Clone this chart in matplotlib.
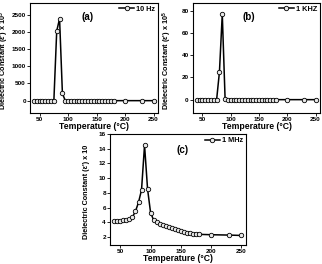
import numpy as np
import matplotlib.pyplot as plt

temps = [40, 45, 50, 55, 60, 65, 70, 75, 80, 85, 90, 95, 100, 105, 110, 115, 120, 125,
         130, 135, 140, 145, 150, 155, 160, 165, 170, 175, 180, 200, 230, 250]

eps_10hz = [0, 0, 0, 0, 0, 0, 0, 0, 2030, 2390, 210, 0, 0, 0, 0, 0, 0, 0,
            0, 0, 0, 0, 0, 0, 0, 0, 0, 0, 0, 0, 0, 0]
eps_1khz = [0, 0, 0, 0, 0, 0, 0, 0, 25, 77, 0.5, 0, 0, 0, 0, 0, 0, 0,
            0, 0, 0, 0, 0, 0, 0, 0, 0, 0, 0, 0, 0, 0]
eps_1mhz = [4.1, 4.15, 4.2, 4.25, 4.3, 4.45, 4.7, 5.5, 6.7, 8.4, 14.5, 8.5, 5.3, 4.3, 4.0, 3.8,
            3.65, 3.5, 3.35, 3.2, 3.05, 2.9, 2.8, 2.7, 2.6, 2.5, 2.45, 2.4, 2.35, 2.3, 2.25, 2.2]

plt.rcParams['font.family'] = ['Liberation Sans', 'DejaVu Sans']
plt.rcParams['font.weight'] = 'bold'
plt.rcParams['mathtext.fontset'] = 'custom'
plt.rcParams['mathtext.rm'] = 'Liberation Sans:bold'
plt.rcParams['mathtext.it'] = 'Liberation Sans:italic:bold'

fig = plt.figure(figsize=(3.22, 2.64), dpi=100)

panels = [
    ([0.093, 0.572, 0.398, 0.417], eps_10hz, '10 Hz', '(a)', (-360, 2850), [0, 500, 1000, 1500, 2000, 2500], "Dielectric Constant (ε') x 10$^5$", (0.45, 0.87)),
    ([0.599, 0.572, 0.395, 0.417], eps_1khz, '1 KHZ', '(b)', (-12, 87), [0, 20, 40, 60, 80], "Dielectric Constant (ε') x 10$^5$", (0.44, 0.87)),
    ([0.342, 0.072, 0.422, 0.420], eps_1mhz, '1 MHz', '(c)', (0.9, 16), [2, 4, 6, 8, 10, 12, 14, 16], "Dielectric Constant (ε') x 10", (0.53, 0.86)),
]

for rect, vals, lab, tag, ylim, yt, ylab, tpos in panels:
    ax = fig.add_axes(rect)
    ax.plot(temps, vals, '-o', color='black', lw=1.1, ms=3.2,
            mfc='#e8e8e8', mec='black', mew=0.6, label=lab)
    ax.set_xlim(33, 258)
    ax.set_ylim(*ylim)
    ax.set_xticks([50, 100, 150, 200, 250])
    ax.set_yticks(yt)
    ax.tick_params(labelsize=4.6, length=2, width=0.6, pad=1)
    ax.set_xlabel('Temperature (°C)', fontsize=6.2, fontweight='bold', labelpad=0)
    ax.set_ylabel(ylab, fontsize=5.2, fontweight='bold')
    ax.yaxis.set_label_coords(-0.15, 0.48)
    ax.text(tpos[0], tpos[1], tag, transform=ax.transAxes, ha='center', va='center',
            fontsize=7, fontweight='bold')
    ax.legend(loc='upper right', fontsize=5.3, frameon=False, handlelength=2,
              borderpad=0.2, handletextpad=0.3, borderaxespad=0.2)
    for s in ax.spines.values():
        s.set_linewidth(0.8)

fig.savefig('out.png', dpi=100)
